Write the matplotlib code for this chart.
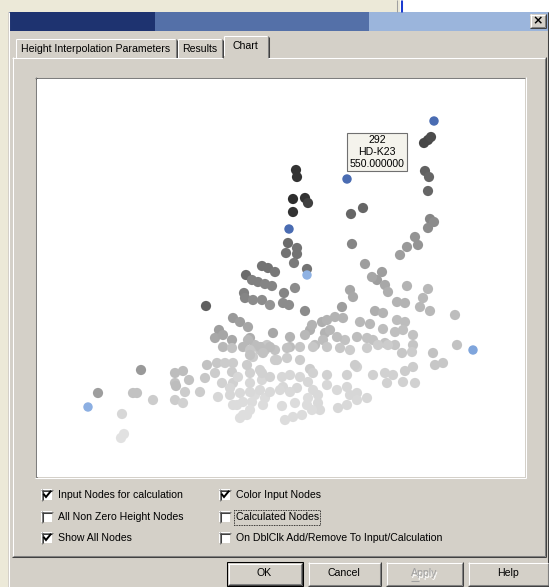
import matplotlib.pyplot as plt
from matplotlib.patches import Rectangle

# node positions on the chart (screen-like units, y grows downwards) and
# their shade (0 = black / highest node, 1 = white / lowest node)
node_x = [424, 428, 431, 425, 429, 428, 430, 434, 428, 415,
          418, 407, 400, 351, 363, 352, 365, 382, 377, 372,
          350, 353, 385, 388, 407, 428, 296, 297, 293, 305,
          308, 293, 288, 297, 286, 297, 294, 307, 262, 268,
          275, 246, 252, 258, 265, 272, 295, 284, 244, 245,
          253, 262, 270, 283, 289, 206, 305, 233, 240, 248,
          219, 215, 232, 250, 273, 290, 310, 322, 325, 223,
          243, 263, 290, 315, 342, 397, 405, 420, 430, 455,
          375, 383, 423, 327, 335, 343, 360, 370, 397, 405,
          312, 330, 383, 395, 403, 413, 323, 345, 357, 373,
          385, 395, 413, 457, 337, 367, 305, 433, 255, 265,
          275, 287, 300, 313, 327, 340, 350, 367, 378, 388,
          402, 412, 435, 443, 275, 287, 300, 310, 327, 347,
          357, 373, 385, 393, 405, 413, 403, 415, 387, 260,
          262, 282, 283, 297, 308, 313, 327, 337, 347, 350,
          357, 367, 255, 265, 263, 282, 295, 307, 318, 320,
          338, 347, 285, 293, 302, 153, 175, 183, 175, 189,
          185, 175, 183, 200, 205, 207, 217, 225, 233, 215,
          232, 233, 222, 230, 218, 230, 240, 250, 260, 270,
          250, 238, 250, 262, 270, 247, 253, 260, 267, 232,
          250, 277, 233, 243, 252, 250, 243, 240, 247, 237,
          248, 260, 270, 250, 263, 223, 141, 98, 176, 133,
          137, 122, 124, 121, 312, 318, 357, 355, 313, 290,
          300, 280, 290, 308]
node_y = [143, 140, 137, 171, 177, 191, 219, 222, 228, 237,
          245, 247, 255, 214, 208, 244, 264, 272, 280, 277,
          290, 297, 285, 292, 286, 289, 170, 177, 199, 198,
          203, 212, 243, 248, 253, 254, 263, 269, 266, 268,
          272, 275, 280, 282, 284, 286, 288, 293, 293, 298,
          300, 300, 305, 303, 305, 306, 311, 318, 322, 327,
          330, 338, 340, 338, 333, 337, 330, 322, 333, 347,
          347, 347, 347, 345, 307, 302, 303, 307, 311, 315,
          311, 313, 298, 320, 317, 318, 322, 324, 320, 322,
          325, 330, 329, 332, 330, 335, 340, 340, 337, 340,
          343, 345, 345, 345, 337, 338, 335, 353, 345, 350,
          350, 348, 347, 347, 347, 348, 350, 348, 345, 345,
          353, 352, 365, 363, 360, 358, 360, 369, 375, 375,
          367, 375, 373, 375, 371, 367, 382, 383, 383, 370,
          380, 377, 387, 388, 382, 390, 385, 390, 387, 395,
          393, 398, 395, 398, 405, 406, 403, 405, 403, 410,
          408, 405, 420, 417, 415, 400, 373, 371, 383, 380,
          392, 400, 403, 392, 378, 365, 363, 363, 363, 373,
          372, 383, 383, 388, 397, 395, 393, 392, 390, 392,
          383, 377, 373, 373, 377, 365, 357, 350, 345, 348,
          350, 360, 405, 402, 402, 410, 415, 418, 415, 405,
          340, 347, 347, 355, 353, 335, 370, 393, 386, 393,
          393, 414, 434, 438, 410, 395, 400, 365, 373, 375,
          377, 390, 392, 398]
node_g = [.28, .28, .30, .38, .40, .40, .52, .55, .55, .58,
          .58, .60, .62, .40, .40, .52, .62, .62, .62, .65,
          .65, .66, .66, .68, .70, .72, .20, .20, .18, .20,
          .25, .20, .42, .45, .45, .45, .48, .45, .45, .45,
          .47, .42, .50, .50, .52, .52, .55, .52, .50, .52,
          .55, .55, .58, .55, .55, .38, .55, .60, .62, .65,
          .62, .66, .66, .68, .65, .70, .68, .68, .70, .72,
          .72, .74, .74, .74, .62, .70, .70, .72, .72, .74,
          .68, .70, .72, .70, .70, .70, .72, .72, .74, .74,
          .70, .72, .74, .75, .75, .76, .74, .76, .74, .76,
          .76, .77, .77, .76, .74, .76, .72, .76, .74, .76,
          .76, .76, .77, .78, .78, .78, .80, .80, .80, .80,
          .78, .80, .78, .78, .80, .80, .80, .80, .82, .82,
          .82, .82, .82, .82, .80, .80, .82, .82, .82, .82,
          .84, .84, .84, .84, .84, .85, .84, .85, .84, .84,
          .84, .84, .86, .86, .86, .86, .86, .86, .85, .85,
          .84, .85, .86, .86, .86, .80, .74, .74, .76, .76,
          .80, .80, .82, .80, .78, .76, .78, .80, .80, .80,
          .80, .82, .82, .84, .84, .84, .85, .85, .85, .85,
          .84, .84, .82, .82, .82, .80, .80, .78, .78, .76,
          .78, .80, .86, .86, .86, .87, .87, .87, .87, .86,
          .72, .74, .74, .76, .76, .65, .60, .62, .74, .76,
          .76, .84, .88, .88, .86, .85, .85, .80, .82, .84,
          .84, .85, .85, .86]

# input nodes (blue)
input_x = [434, 347, 289, 307, 473, 88]
input_y = [121, 179, 229, 275, 350, 407]
input_c = ['#4a6cb2', '#4a6cb2', '#4a6cb2', '#8fb2e3', '#7fa5dc', '#8cafe2']

tip_lines = ['292', 'HD-K23', '550.000000']
tip_node = (347, 179)

tabs = ['Height Interpolation Parameters', 'Results', 'Chart']
left_opts = ['Input Nodes for calculation', 'All Non Zero Height Nodes', 'Show All Nodes']
left_checked = [True, False, True]
right_opts = ['Color Input Nodes', 'Calculated Nodes', 'On DblClk Add/Remove To Input/Calculation']
right_checked = [True, False, False]
buttons = ['OK', 'Cancel', 'Apply', 'Help']

FONT = 'Liberation Sans'
FS = 7.6
FACE = '#d4d0c8'

fig = plt.figure(figsize=(5.49, 5.87), dpi=100)
fig.patch.set_facecolor(FACE)

# overlay axes in pixel units for the dialog itself
bg = fig.add_axes([0, 0, 1, 1])
bg.set_xlim(0, 549)
bg.set_ylim(587, 0)
bg.axis('off')


def rect(x, y, w, h, fc, ec='none', z=1):
    bg.add_patch(Rectangle((x, y), w, h, facecolor=fc, edgecolor=ec, linewidth=0.72, zorder=z))


def hl(y, x0, x1, c, z=2):
    bg.plot([x0, x1 + 1], [y + 0.5, y + 0.5], color=c, lw=0.75, zorder=z, solid_capstyle='butt')


def vl(x, y0, y1, c, z=2):
    bg.plot([x + 0.5, x + 0.5], [y0, y1 + 1], color=c, lw=0.75, zorder=z, solid_capstyle='butt')


def raised(x0, y0, x1, y1):
    hl(y0, x0, x1, 'white')
    vl(x0, y0, y1, 'white')
    hl(y1, x0, x1, '#404040')
    vl(x1, y0, y1, '#404040')
    hl(y1 - 1, x0 + 1, x1 - 1, '#808080')
    vl(x1 - 1, y0 + 1, y1 - 1, '#808080')


def txt(x, y, s, **kw):
    bg.text(x, y, s, fontsize=FS, family=FONT, va='center', zorder=5, **kw)


# window behind the dialog
rect(0, 0, 549, 12, '#ece9d8')
rect(400, 0, 149, 12, 'white')
vl(396, 0, 11, '#a0a0a0')
vl(400, 0, 11, '#1a3bd0')
vl(401, 0, 11, '#1a3bd0')
rect(0, 12, 8, 575, '#ece9d8')
vl(8, 12, 587, '#ffffff')

# title bar
rect(9, 12, 146, 19, '#1e3370')
rect(155, 12, 214, 19, '#5470a8')
rect(369, 12, 180, 19, '#9bb5dc')
rect(530, 14, 16, 14, FACE, z=2)
raised(530, 14, 545, 27)
bg.text(538, 21, '×', fontsize=9, family='DejaVu Sans', fontweight='bold',
        ha='center', va='center', zorder=5)

# tab strip
tab_x = [15, 177, 223]
tab_r = [176, 222, 268]
for i, name in enumerate(tabs):
    top = 35 if i == 2 else 38
    x0, x1 = tab_x[i], tab_r[i]
    hl(top, x0 + 1, x1 - 2, 'white')
    vl(x0, top + 1, 57, 'white')
    vl(x1 - 1, top + 1, 57, '#808080')
    vl(x1, top + 2, 57, '#404040')
    txt((x0 + x1) / 2, top + 11 if i == 2 else top + 10.5, name, ha='center')
rect(224, 56, 43, 3, FACE, z=3)

# tab page frame
hl(57, 12, 222, 'white')
hl(57, 268, 545, 'white')
vl(12, 57, 556, 'white')
vl(545, 57, 556, '#404040')
vl(544, 58, 555, '#808080')
hl(556, 12, 545, '#404040')
hl(555, 13, 544, '#808080')
vl(547, 12, 587, '#404040')

# sunken frame of the chart
hl(77, 35, 524, '#808080')
vl(35, 77, 477, '#808080')
hl(78, 36, 523, '#404040')
vl(36, 78, 476, '#404040')
hl(477, 35, 525, 'white')
vl(525, 77, 477, 'white')

# check boxes
rows_y = [495, 517, 538]


def checkbox(x, y, label, checked):
    rect(x, y - 6, 11, 11, 'white', z=2)
    hl(y - 6, x, x + 11, '#808080', z=3)
    vl(x, y - 6, y + 5, '#808080', z=3)
    hl(y - 5, x + 1, x + 10, '#404040', z=3)
    vl(x + 1, y - 5, y + 4, '#404040', z=3)
    if checked:
        bg.plot([x + 3, x + 5, x + 9.5], [y - 0.5, y + 2, y - 3.5], color='black', lw=1.4,
                zorder=4, solid_joinstyle='miter')
    txt(x + 17, y, label)


for yy, lab, chk in zip(rows_y, left_opts, left_checked):
    checkbox(41, yy, lab, chk)
for yy, lab, chk in zip(rows_y, right_opts, right_checked):
    checkbox(219, yy, lab, chk)
bg.add_patch(Rectangle((234, 510), 86, 15, fill=False, edgecolor='black',
                       linewidth=0.6, linestyle=(0, (1, 1)), zorder=4))

# buttons
btn_l = [227, 308, 386, 468]
btn_r = [302, 380, 462, 548]
for i, name in enumerate(buttons):
    x0, x1 = btn_l[i], btn_r[i]
    if i == 0:
        bg.add_patch(Rectangle((x0, 562), x1 - x0 + 1, 24, fill=False, edgecolor='black',
                               linewidth=0.75, zorder=3))
        raised(x0 + 1, 563, x1 - 1, 584)
    else:
        raised(x0, 562, x1, 585)
    if name == 'Apply':
        txt((x0 + x1) / 2 + 1, 574.5, name, ha='center', color='white')
        txt((x0 + x1) / 2, 573.5, name, ha='center', color='#a0a0a0')
        hl(580, (x0 + x1) / 2 - 13, (x0 + x1) / 2 - 6, '#a0a0a0', z=6)
    else:
        txt((x0 + x1) / 2, 573.5, name, ha='center')

# the chart
ax = fig.add_axes([37 / 549, 1 - 477 / 587, 488 / 549, 398 / 587])
ax.set_xlim(37, 525)
ax.set_ylim(477, 79)
ax.set_facecolor('white')
ax.set_xticks([])
ax.set_yticks([])
for s in ax.spines.values():
    s.set_visible(False)

ax.scatter(node_x, node_y, c=node_g, cmap='gray', vmin=0, vmax=1, s=54,
           linewidths=0, zorder=2)
ax.scatter(input_x, input_y, c=input_c, s=46, linewidths=0, zorder=3)

ax.text(tip_node[0] + 30, tip_node[1] - 27, '\n'.join(tip_lines), fontsize=FS, family=FONT,
        ha='center', va='center', linespacing=1.22, zorder=5,
        bbox=dict(boxstyle='square,pad=0.2', facecolor='#f4f3ec', edgecolor='#707070',
                  linewidth=0.8))

fig.savefig('out.png', dpi=100, facecolor=fig.get_facecolor())
